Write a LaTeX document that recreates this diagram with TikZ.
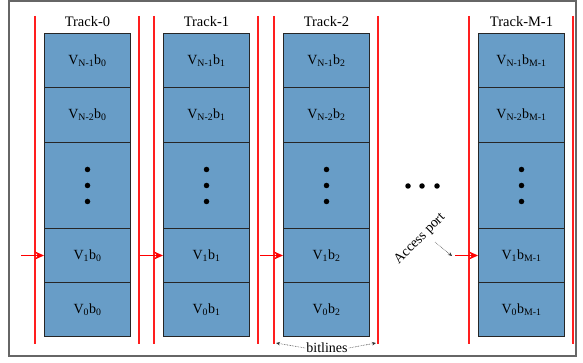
\documentclass[tikz,border=0pt]{standalone}
\usepackage{fontspec}
\setmainfont{Liberation Serif}
\usetikzlibrary{arrows.meta,calc}
\definecolor{cellblue}{RGB}{104,157,199}
\definecolor{portred}{RGB}{255,0,0}
\definecolor{railred}{RGB}{255,30,30}
\newcommand\lsub[1]{\textsubscript{#1}}
\tikzset{
  cell/.style={rectangle, fill=cellblue, draw=black!85, line width=1pt,
    minimum width=86pt, inner sep=0pt, anchor=north west, font=\fontsize{14}{16}\selectfont},
  rail/.style={draw=railred, line width=1.3pt},
  portarrow/.style={draw=portred, fill=portred, line width=1.8pt, -{Stealth[length=9pt,width=8pt]}},
  title/.style={font=\fontsize{14.5}{16}\selectfont},
  dotmark/.style={circle, fill=black, inner sep=0pt, minimum size=5.5pt},
  note/.style={draw=black!80, densely dotted, line width=0.6pt, -{Stealth[length=4pt,width=3.5pt]}},
  label/.style={font=\fontsize{14}{16}\selectfont, inner sep=1pt}
}
\begin{document}
\begin{tikzpicture}[x=1pt,y=-1pt]
\useasboundingbox (0,0) rectangle (583,363);
\draw[black!60, line width=1.4pt] (9,1) rectangle (576,356);

\foreach \i/\x/\lab/\b in {0/44/Track-0/0, 1/163/Track-1/1, 2/283/Track-2/2, 3/478/Track-M-1/M-1}{
  % cells of one track, top to bottom
  \node[cell, minimum height=54pt] (ca\i) at (\x,33) {V\lsub{N-1}b\lsub{\b}};
  \node[cell, minimum height=55pt] (cb\i) at (\x,87) {V\lsub{N-2}b\lsub{\b}};
  \node[cell, minimum height=86pt] (cc\i) at (\x,142) {};
  \node[cell, minimum height=54pt] (cd\i) at (\x,228) {V\lsub{1}b\lsub{\b}};
  \node[cell, minimum height=54pt] (ce\i) at (\x,282) {V\lsub{0}b\lsub{\b}};
  % vertical ellipsis
  \node[dotmark] (da\i) at ($(cc\i.center)+(0,-16)$) {};
  \node[dotmark] (db\i) at (cc\i.center) {};
  \node[dotmark] (dc\i) at ($(cc\i.center)+(0,16)$) {};
  % title
  \node[title] (t\i) at ($(ca\i.north)+(0,-11)$) {\lab};
  % bitlines
  \coordinate (lt\i) at ($(ca\i.north west)+(-9,-17)$);
  \coordinate (lb\i) at ($(ce\i.south west)+(-9,7)$);
  \coordinate (rt\i) at ($(ca\i.north east)+(8,-17)$);
  \coordinate (rb\i) at ($(ce\i.south east)+(8,7)$);
  \draw[rail] (lt\i) -- (lb\i);
  \draw[rail] (rt\i) -- (rb\i);
  % access port
  \coordinate (p\i) at ($(cd\i.west)+(-23,0)$);
  \draw[portarrow] (p\i) -- (cd\i.west);
}

% horizontal ellipsis between tracks
\node[dotmark] (h1) at (408,186) {};
\node[dotmark] (h2) at (422,186) {};
\node[dotmark] (h3) at (437,186) {};

% access port label
\node[label, rotate=45] (ap) at (420,239) {Access port};
\coordinate (apend) at (452,256);
\draw[note] (435,242) -- (apend);

% bitlines label
\node[label] (bl) at (327,348) {bitlines};
\coordinate (bl1) at ($(lb2)+(2,-1)$);
\coordinate (br1) at ($(rb2)+(-2,-1)$);
\draw[note] (bl.west) -- (bl1);
\draw[note] (bl.east) -- (br1);
\end{tikzpicture}
\end{document}
